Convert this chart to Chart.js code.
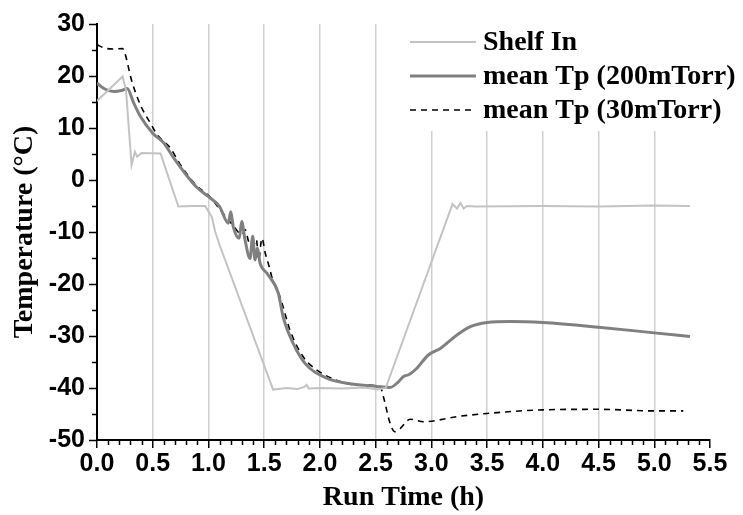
<!DOCTYPE html>
<html>
<head>
<meta charset="utf-8">
<title>Run Time vs Temperature</title>
<script src="https://cdn.jsdelivr.net/npm/chart.js@4/dist/chart.umd.min.js"></script>
<style>
  html, body { margin: 0; padding: 0; background: #fff; }
  #wrap { width: 743px; height: 515px; }
</style>
</head>
<body>
<div id="wrap"><canvas id="tempChart" width="743" height="515"></canvas></div>
<script>
// Shelf In (light grey)
const shelfTime = [0, 0.23, 0.26, 0.31, 0.34, 0.36, 0.40, 0.57, 0.73, 0.85, 0.97, 1.03, 1.06, 1.10, 1.58, 1.70, 1.80, 1.86, 1.88, 1.90, 2.00, 2.20, 2.40, 2.52, 2.59, 3.19, 3.23, 3.26, 3.29, 3.32, 3.40, 4.00, 4.50, 5.00, 5.32];
const shelfTemp = [15.2, 19.9, 17.3, 2.9, 5.4, 4.5, 5.2, 5.1, -5.1, -5.0, -5.0, -7.1, -9.9, -12.5, -40.3, -40.0, -40.2, -39.8, -39.4, -40.1, -40.0, -40.1, -39.9, -40.3, -40.0, -4.6, -5.5, -4.4, -5.5, -5.0, -5.1, -5.0, -5.1, -4.9, -5.0];

// mean Tp at 200 mTorr (dark grey)
const tp200Time = [0, 0.07, 0.15, 0.22, 0.27, 0.33, 0.39, 0.50, 0.60, 0.68, 0.80, 0.89, 1.00, 1.10, 1.178, 1.20, 1.223, 1.277, 1.298, 1.328, 1.373, 1.397, 1.418, 1.439, 1.463, 1.523, 1.627, 1.67, 1.76, 1.88, 2.06, 2.27, 2.51, 2.63, 2.70, 2.75, 2.80, 2.87, 2.97, 3.08, 3.23, 3.35, 3.50, 3.71, 4.00, 4.50, 5.00, 5.32];
const tp200Temp = [18.6, 17.5, 17.0, 17.2, 17.6, 14.8, 12.2, 9.0, 7.1, 4.5, 1.0, -1.3, -3.2, -5.1, -8.3, -6.1, -9.0, -11.2, -8.0, -11.5, -15.1, -10.8, -15.4, -13.1, -16.0, -17.9, -21.8, -26.3, -31.4, -35.6, -38.1, -39.2, -39.7, -39.9, -38.9, -37.8, -37.4, -36.2, -33.7, -32.4, -29.8, -28.2, -27.4, -27.2, -27.4, -28.3, -29.4, -30.1];

// mean Tp at 30 mTorr (black dashed)
const tp30Time = [0, 0.08, 0.15, 0.23, 0.25, 0.31, 0.39, 0.48, 0.54, 0.66, 0.74, 0.89, 1.01, 1.13, 1.22, 1.30, 1.33, 1.36, 1.40, 1.43, 1.45, 1.48, 1.51, 1.54, 1.58, 1.63, 1.66, 1.73, 1.85, 1.97, 2.15, 2.33, 2.54, 2.57, 2.63, 2.67, 2.72, 2.81, 2.93, 3.23, 3.50, 4.00, 4.50, 5.00, 5.26];
const tp30Temp = [26.0, 25.3, 25.2, 25.3, 24.4, 19.2, 14.4, 10.9, 8.7, 6.1, 3.2, -1.0, -3.2, -6.4, -8.7, -10.5, -9.6, -11.8, -12.8, -11.4, -15.4, -11.2, -14.1, -16.3, -19.5, -21.8, -23.7, -28.8, -34.0, -36.5, -38.5, -39.4, -39.7, -41.7, -46.8, -48.4, -47.8, -46.0, -46.5, -45.5, -44.9, -44.2, -44.1, -44.4, -44.4];

// Axis ranges
const xMin = 0, xMax = 5.5, xStep = 0.5;
const yMin = -50, yMax = 30, yStep = 10;

function toPoints(xs, ys) {
    return xs.map((x, i) => ({ x: x, y: ys[i] }));
}

// Minor tick marks (0.1 h on x, 5 °C on y)
const minorTicks = {
    id: 'minorTicks',
    afterDraw(chart) {
        const ctx = chart.ctx;
        const xs = chart.scales.x;
        const ys = chart.scales.y;
        ctx.save();
        ctx.strokeStyle = '#000';
        ctx.lineWidth = 1.5;
        ctx.beginPath();
        for (let i = 0; i <= 55; i++) {
            if (i % 5 === 0) continue;
            const px = Math.round(xs.getPixelForValue(i / 10)) + 0.5;
            ctx.moveTo(px, xs.top);
            ctx.lineTo(px, xs.top + 5);
        }
        for (let v = yMin + 5; v < yMax; v += 10) {
            const py = Math.round(ys.getPixelForValue(v)) + 0.5;
            ctx.moveTo(ys.right, py);
            ctx.lineTo(ys.right - 5, py);
        }
        ctx.stroke();
        ctx.restore();
    }
};

// Legend drawn inside the plot, on a white box over the grid
const insideLegend = {
    id: 'insideLegend',
    beforeDatasetsDraw(chart) {
        const ctx = chart.ctx;
        const top = chart.chartArea.top;
        ctx.save();
        ctx.fillStyle = '#fff';
        ctx.fillRect(398, top, chart.width - 398, 107);
        ctx.font = 'bold 28px "Liberation Serif", "Times New Roman", serif';
        ctx.textBaseline = 'middle';
        const rows = [42, 76, 110];
        chart.data.datasets.forEach((ds, i) => {
            const y = rows[i];
            ctx.strokeStyle = ds.borderColor;
            ctx.lineWidth = ds.borderWidth;
            ctx.setLineDash(ds.borderDash || []);
            ctx.beginPath();
            ctx.moveTo(410, y);
            ctx.lineTo(476, y);
            ctx.stroke();
            ctx.setLineDash([]);
            ctx.fillStyle = '#000';
            ctx.fillText(ds.label, 483, y + 1);
        });
        ctx.restore();
    }
};

const tickFont = { family: '"Liberation Sans", Arial, sans-serif', size: 25, weight: 'bold' };
const titleFont = { family: '"Liberation Serif", "Times New Roman", serif', size: 28, weight: 'bold' };

const ctx = document.getElementById('tempChart').getContext('2d');
const chart = new Chart(ctx, {
    type: 'line',
    data: {
        datasets: [
            {
                label: 'Shelf In',
                data: toPoints(shelfTime, shelfTemp),
                borderColor: '#c3c3c3',
                borderWidth: 2,
                pointRadius: 0,
                tension: 0
            },
            {
                label: 'mean Tp (200mTorr)',
                data: toPoints(tp200Time, tp200Temp),
                borderColor: '#808080',
                borderWidth: 3,
                pointRadius: 0,
                cubicInterpolationMode: 'monotone'
            },
            {
                label: 'mean Tp (30mTorr)',
                data: toPoints(tp30Time, tp30Temp),
                borderColor: '#000000',
                borderWidth: 1.6,
                borderDash: [6, 5],
                pointRadius: 0,
                cubicInterpolationMode: 'monotone'
            }
        ]
    },
    options: {
        responsive: false,
        animation: false,
        devicePixelRatio: 1,
        layout: { padding: { top: 24, right: 33, left: 0, bottom: 0 } },
        plugins: {
            legend: { display: false },
            tooltip: { enabled: false }
        },
        scales: {
            x: {
                type: 'linear',
                min: xMin,
                max: xMax,
                afterFit: scale => { scale.height = 75; },
                ticks: {
                    stepSize: xStep,
                    padding: 1,
                    color: '#000',
                    font: tickFont,
                    callback: v => v.toFixed(1),
                    maxRotation: 0,
                    autoSkip: false
                },
                grid: {
                    color: c => (c.tick && (c.tick.value === xMin || c.tick.value === xMax)) ? 'rgba(0,0,0,0)' : '#cfcfcf',
                    lineWidth: 1.5,
                    tickColor: '#000',
                    tickWidth: 1.5,
                    tickLength: 8
                },
                border: { display: true, color: '#000', width: 2 },
                title: {
                    display: true,
                    text: 'Run Time (h)',
                    color: '#000',
                    font: titleFont,
                    padding: { top: 0, bottom: 0 }
                }
            },
            y: {
                min: yMin,
                max: yMax,
                afterFit: scale => { scale.width = 97; },
                ticks: {
                    stepSize: yStep,
                    padding: 4,
                    color: '#000',
                    font: tickFont
                },
                grid: {
                    drawOnChartArea: false,
                    color: '#000',
                    tickColor: '#000',
                    tickWidth: 1.5,
                    tickLength: 8
                },
                border: { display: true, color: '#000', width: 2 },
                title: {
                    display: true,
                    text: 'Temperature (°C)',
                    color: '#000',
                    font: titleFont,
                    padding: { top: 8, bottom: 0 }
                }
            }
        }
    },
    plugins: [insideLegend, minorTicks]
});
</script>
</body>
</html>
